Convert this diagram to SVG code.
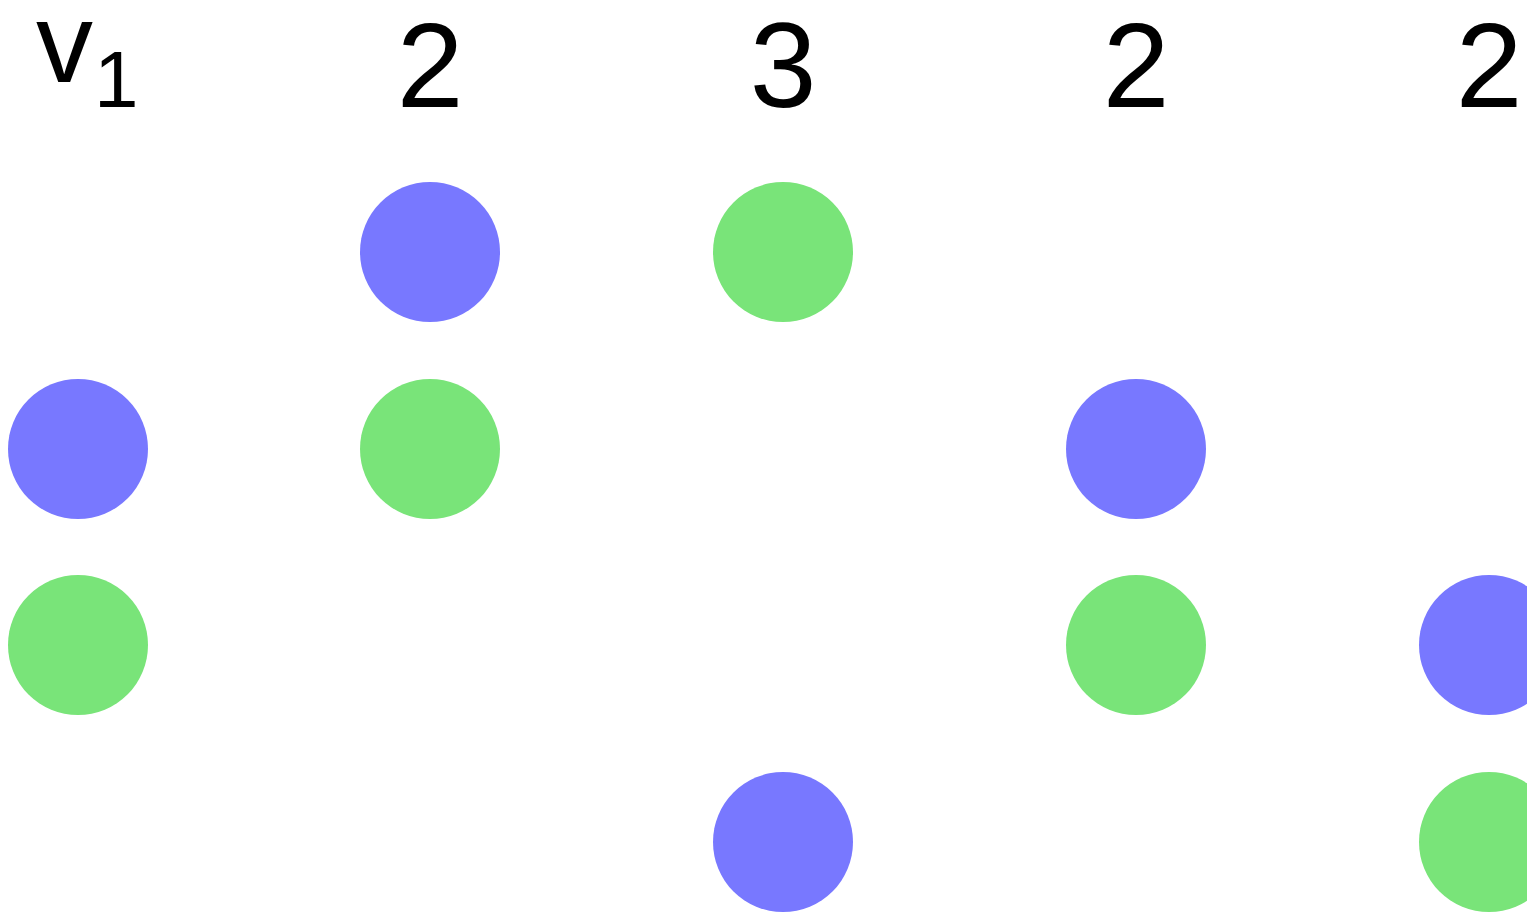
<svg xmlns="http://www.w3.org/2000/svg" width="1527" height="914" viewBox="0 0 1527 914">
<style>
.lbl{font-family:"Liberation Sans",Arial,sans-serif;font-size:120px;fill:#000;text-anchor:middle}
.sub{font-family:"Liberation Sans",Arial,sans-serif;font-size:80px;fill:#000}
.b{fill:#7878ff}
.g{fill:#79e479}
</style>
<rect width="1527" height="914" fill="#fff"/>
<g id="labels">
<text x="36" y="82" class="sub" style="font-size:114px">v</text>
<text x="94" y="107" class="sub">1</text>
<text x="430" y="107" class="lbl">2</text>
<text x="783" y="107" class="lbl">3</text>
<text x="1136" y="107" class="lbl">2</text>
<text x="1489" y="107" class="lbl">2</text>
</g>
<g id="col0"><circle class="b" cx="78" cy="449" r="70"/><circle class="g" cx="78" cy="645" r="70"/></g>
<g id="col1"><circle class="b" cx="430" cy="252" r="70"/><circle class="g" cx="430" cy="449" r="70"/></g>
<g id="col2"><circle class="g" cx="783" cy="252" r="70"/><circle class="b" cx="783" cy="842" r="70"/></g>
<g id="col3"><circle class="b" cx="1136" cy="449" r="70"/><circle class="g" cx="1136" cy="645" r="70"/></g>
<g id="col4"><circle class="b" cx="1489" cy="645" r="70"/><circle class="g" cx="1489" cy="842" r="70"/></g>
<g id="connectors"/>
</svg>
